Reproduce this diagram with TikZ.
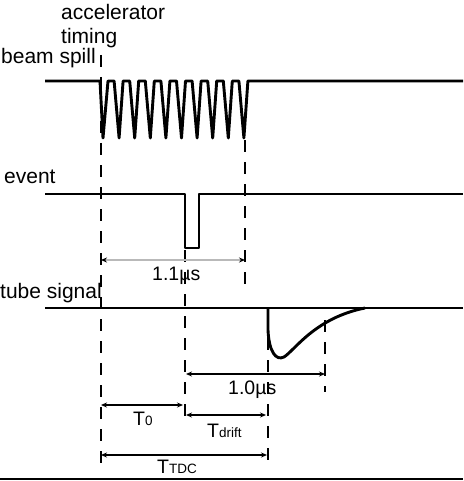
\documentclass[tikz,border=0pt]{standalone}
\usepackage{fontspec}
\setmainfont{Liberation Sans}
\usetikzlibrary{arrows.meta}
\begin{document}
\begin{tikzpicture}[x=1pt,y=-1pt,
  sig/.style={line width=2.9pt, line join=round},
  guide/.style={line width=1.9pt, dash pattern=on 12pt off 10pt},
  dimline/.style={line width=1.2pt, {Stealth[length=6pt,width=5pt]}-{Stealth[length=6pt,width=5pt]}},
  graydim/.style={line width=1.4pt, draw=gray!55, {Stealth[length=6pt,width=5pt,black]}-{Stealth[length=6pt,width=5pt,black]}},
  lbl/.style={font=\fontsize{21}{24}\selectfont, inner sep=0pt, anchor=base west},
  dlbl/.style={font=\fontsize{19.5}{22}\selectfont, inner sep=0pt, anchor=base west}]
\newcommand{\smallsub}[1]{{\fontsize{13.5}{13.5}\selectfont #1}}
\useasboundingbox (0,0) rectangle (463,481);

% texts
\node[lbl] (acc) at (61,20) {accelerator};
\node[lbl] (tim) at (61,44) {timing};
\node[lbl] (beam) at (1,64) {beam spill};
\node[lbl] (ev) at (4,183) {event};
\node[lbl] (tube) at (0,298) {tube signal};

% guide coordinates
\coordinate (g1t) at (101,55);  \coordinate (g1b) at (101,468);
\coordinate (g2t) at (185,250); \coordinate (g2b) at (185,420);
\coordinate (g3t) at (245,140); \coordinate (g3b) at (245,285);
\coordinate (g4t) at (268,338); \coordinate (g4b) at (268,468);
\coordinate (g5t) at (325,320); \coordinate (g5b) at (325,392);

% dashed guides
\draw[guide] (g1t) -- (g1b);
\draw[guide] (g2t) -- (g2b);
\draw[guide] (g3t) -- (g3b);
\draw[guide] (g4t) -- (g4b);
\draw[guide] (g5t) -- (g5b);

% beam spill
\draw[sig] (45,81) -- (100,81) -- (103,138) -- (108,81)
  \foreach \i in {1,...,9} { -- ({103.5+15.6*\i-5},81) -- ({103.5+15.6*\i},138) -- ({103.5+15.6*\i+4},81) }
  -- (463,81);

% event
\draw[sig] (45,194) -- (185,194) -- (185,248) -- (199,248) -- (199,194) -- (463,194);

% tube signal
\draw[sig] (45,308) -- (463,308);
\draw[sig] (268,308) -- (268,330) .. controls (269,352) and (276,361) .. (284,357)
  .. controls (295,350) and (315,318) .. (365,308);

% dimension arrows
\coordinate (a11l) at (101,260); \coordinate (a11r) at (245,260);
\draw[graydim] (a11l) -- (a11r);
\node[dlbl] (l11) at (152,280) {1.1µs};

\coordinate (a10l) at (186,374); \coordinate (a10r) at (325,374);
\draw[dimline] (a10l) -- (a10r);
\node[dlbl] (l10) at (228,394) {1.0µs};

\coordinate (t0l) at (101,405); \coordinate (t0r) at (183,405);
\draw[dimline] (t0l) -- (t0r);
\node[dlbl] (lt0) at (133,425) {T\smallsub{0}};

\coordinate (tdl) at (186,415); \coordinate (tdr) at (266,415);
\draw[dimline] (tdl) -- (tdr);
\node[dlbl] (ltd) at (207,437) {T\smallsub{drift}};

\coordinate (ttl) at (101,455); \coordinate (ttr) at (267,455);
\draw[dimline] (ttl) -- (ttr);
\node[dlbl] (ltt) at (157,473) {T\smallsub{TDC}};

% bottom rule
\coordinate (bl) at (0,479); \coordinate (br) at (463,479);
\draw[line width=2pt] (bl) -- (br);
\end{tikzpicture}
\end{document}
